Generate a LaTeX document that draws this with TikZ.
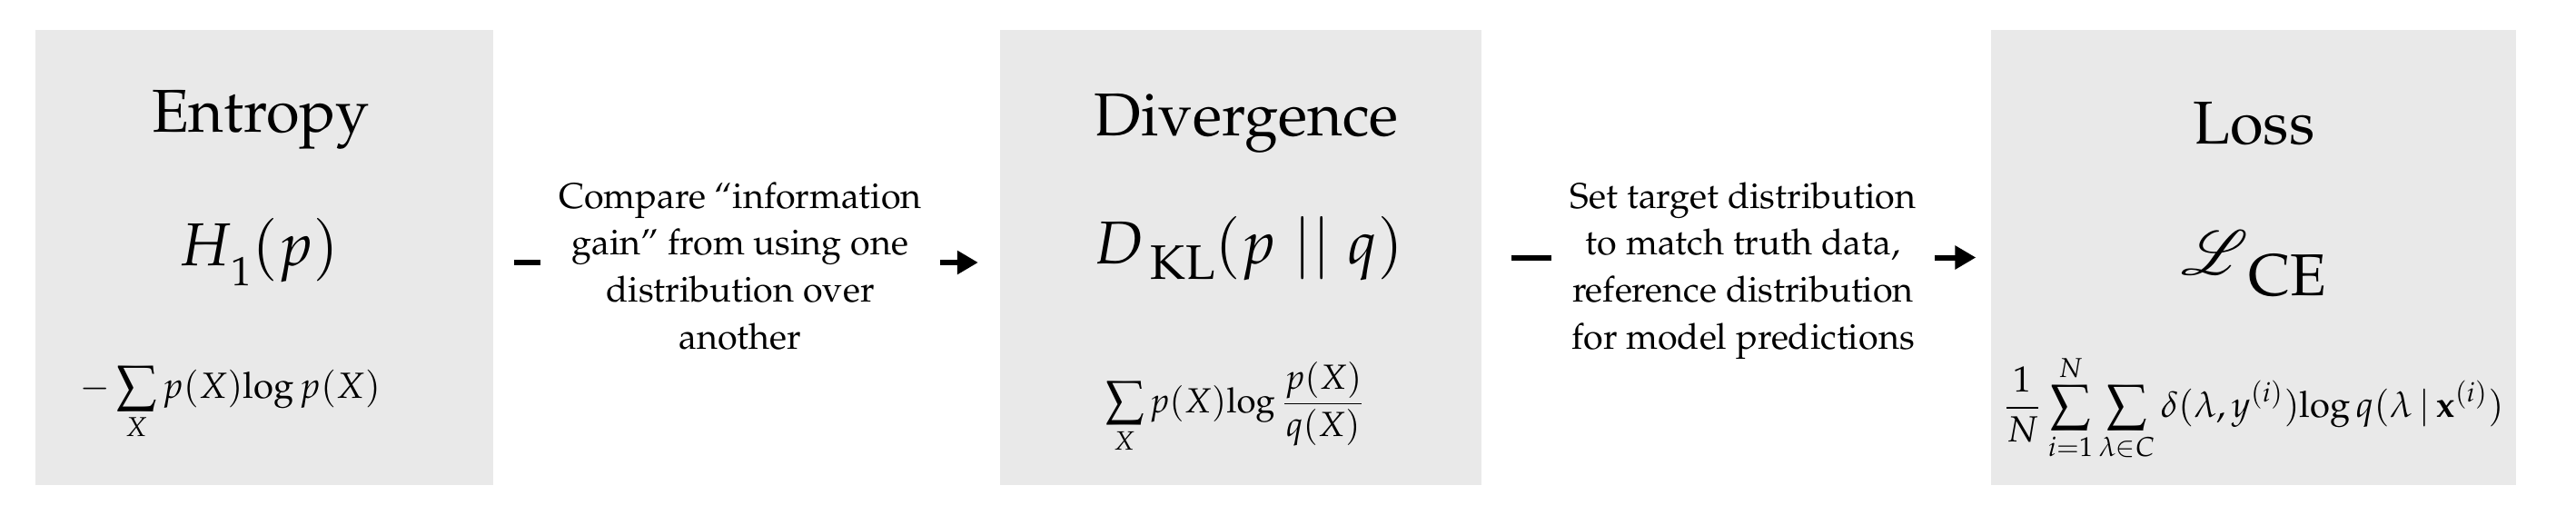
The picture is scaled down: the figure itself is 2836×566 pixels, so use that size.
\documentclass[tikz,border=0pt]{standalone}
\usepackage[T1]{fontenc}
\usepackage{mathpazo}
\usepackage{mathrsfs}
\usetikzlibrary{arrows.meta}
\definecolor{boxgray}{HTML}{E9E9E9}
\begin{document}
\begin{tikzpicture}[x=0.3pt,y=-0.3pt,
  panel/.style={fill=boxgray, draw=none, inner sep=0pt, minimum height=150.3pt},
  title/.style={font=\fontsize{20}{24}\selectfont, inner sep=0pt, anchor=base},
  midf/.style={font=\fontsize{20}{24}\selectfont, inner sep=0pt, anchor=base},
  botf/.style={font=\fontsize{12}{14}\selectfont, inner sep=0pt, anchor=base},
  lbl/.style={fill=white, inner sep=0pt, align=center, anchor=north,
              font=\fontsize{11.85}{15.5}\selectfont},
  arr/.style={line width=1.8pt, -{Triangle[length=6.9pt,width=7.5pt]}}
]
\useasboundingbox (0,0) rectangle (2836,566);

% panels
\node[panel, minimum width=151.2pt]  (b1) at (291,283.5) {};
\node[panel, minimum width=159.15pt] (b2) at (1365.75,283.5) {};
\node[panel, minimum width=173.55pt] (b3) at (2480.75,283.5) {};

% titles
\node[title] (t1) at (287,145) {Entropy};
\node[title] (t2) at (1372,149) {Divergence};
\node[title] (t3) at (2481.5,158) {Loss};

% main symbols
\node[midf] (m1) at (285,292) {$H$\raisebox{-6.6pt}{\fontsize{13.5}{13.5}\selectfont 1}$(p)$};
\node[midf] (m2) at (1374.5,290) {$D$\kern2pt\raisebox{-5.1pt}{\fontsize{16}{16}\selectfont KL}$(p\mathrel{||}q)$};
\node[midf] (m3) at (2481.5,302) {$\mathscr{L}$\raisebox{-7pt}{\fontsize{19.5}{19.5}\selectfont CE}};

% formulas
\node[botf] (f1) at (253.5,438) {$\displaystyle -\sum_{X} p(X)\!\log p(X)$};
\node[botf, font=\fontsize{11.5}{14}\selectfont] (f2) at (1360,454) {$\displaystyle \sum_{X} p(X)\!\log\frac{p(X)}{q(X)}$};
\node[botf] (f3) at (2481,459) {$\displaystyle \frac{1}{N}\sum_{i=1}^{N}\sum_{\lambda\in C}\delta(\lambda,y^{(i)})\!\log q(\lambda\,|\,\mathbf{x}^{(i)})$};

% connectors
\draw[arr] ([xshift=6.6pt,yshift=-1.65pt]b1.east) -- ([xshift=-6.9pt,yshift=-1.65pt]b2.west);
\draw[arr] ([xshift=9.6pt]b2.east) -- ([xshift=-4.65pt]b3.west);

% labels over the connectors
\node[lbl, minimum width=132pt] (l1) at (815,200)
  {Compare ``information\\gain'' from using one\\distribution over\\another};
\node[lbl, minimum width=126.6pt] (l2) at (1919,200)
  {Set target distribution\\to match truth data,\\reference distribution\\for model predictions};
\end{tikzpicture}
\end{document}
